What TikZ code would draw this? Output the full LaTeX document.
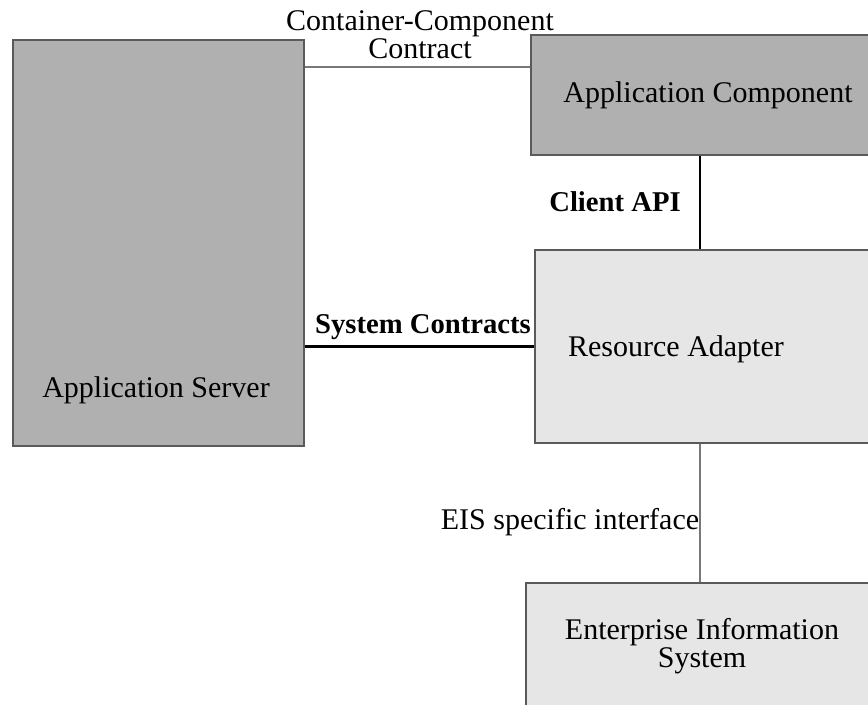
\documentclass[tikz,border=0pt]{standalone}
\usepackage{fontspec}
\setmainfont{Liberation Serif}
\definecolor{darkfill}{RGB}{176,176,176}
\definecolor{lightfill}{RGB}{230,230,230}
\definecolor{edgegray}{RGB}{90,90,90}
\definecolor{linegray}{RGB}{120,120,120}
\tikzset{every picture/.style={line width=0.75pt},
  darkbox/.style={draw=edgegray,line width=1.3pt,fill=darkfill,inner sep=0pt},
  lightbox/.style={draw=edgegray,line width=1.1pt,fill=lightfill,inner sep=0pt},
  boxtext/.style={inner sep=0pt,align=center,font=\fontsize{22.5}{21}\selectfont},
  linktext/.style={boxtext,font=\fontsize{21.5}{21}\selectfont\bfseries},
  thinlink/.style={draw=linegray,line width=1.2pt},
  thicklink/.style={draw=black,line width=2.2pt}}
\begin{document}
\begin{tikzpicture}[x=0.75pt,y=0.75pt,yscale=-1,xscale=1]
\useasboundingbox (0,0) rectangle (868,704);

%Shape: Rectangle [id:appserver]
\node[darkbox,minimum width=218.25pt,minimum height=304.5pt] (appserver) at (158.5,243) {};
%Shape: Rectangle [id:appcomp]
\node[darkbox,minimum width=255.75pt,minimum height=90pt] (appcomp) at (701.5,95) {};
%Shape: Rectangle [id:adapter]
\node[lightbox,minimum width=252.75pt,minimum height=144.75pt] (adapter) at (703.5,346.5) {};
%Shape: Rectangle [id:eis]
\node[lightbox,minimum width=259.5pt,minimum height=96.75pt] (eis) at (699,647.5) {};

\coordinate (contracty) at (0,67);
\coordinate (apix) at (700,0);

%Straight Lines [id:contract]
\draw[thinlink] (appserver.east |- contracty) -- (appcomp.west |- contracty);
%Straight Lines [id:clientapi]
\draw[thicklink] (appcomp.south -| apix) -- (adapter.north -| apix);
%Straight Lines [id:system]
\draw[thicklink] (appserver.east |- adapter.west) -- (adapter.west);
%Straight Lines [id:eisiface]
\draw[thinlink] (adapter.south -| apix) -- (eis.north -| apix);

% Text Node
\node[boxtext] (tcontract) at (420,35) {Container-Component\\Contract};
% Text Node
\node[boxtext] (tappcomp) at (708,95) {Application Component};
% Text Node
\node[linktext] (tclient) at (615,202) {Client API};
% Text Node
\node[linktext] (tsystem) at (423,327) {System Contracts};
% Text Node
\node[boxtext] (tadapter) at (676,349) {Resource Adapter};
% Text Node
\node[boxtext] (tappserver) at (156,390) {Application Server};
% Text Node
\node[boxtext] (tiface) at (570,522) {EIS specific interface};
% Text Node
\node[boxtext] (teis) at (702,646) {Enterprise Information\\System};

\end{tikzpicture}
\end{document}
